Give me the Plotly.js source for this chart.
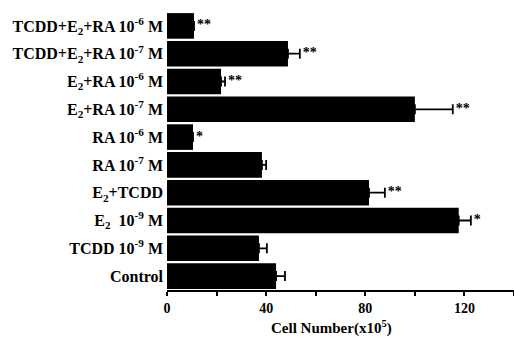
<!DOCTYPE html>
<html>
<head>
<meta charset="utf-8">
<script src="https://cdn.plot.ly/plotly-3.0.1.min.js"></script>
<style>html,body{margin:0;padding:0;background:#fff;}#chart{width:514px;height:338px;}</style>
</head>
<body>
<div id="chart"></div>
<script>
const categories = [
  "TCDD+E<sub>2</sub>+RA 10<sup>-6</sup> M",
  "TCDD+E<sub>2</sub>+RA 10<sup>-7</sup> M",
  "E<sub>2</sub>+RA 10<sup>-6</sup> M",
  "E<sub>2</sub>+RA 10<sup>-7</sup> M",
  "RA 10<sup>-6</sup> M",
  "RA 10<sup>-7</sup> M",
  "E<sub>2</sub>+TCDD",
  "E<sub>2</sub>  10<sup>-9</sup> M",
  "TCDD 10<sup>-9</sup> M",
  "Control"
];
const cellNumber = [10.9, 48.8, 21.8, 100, 10.5, 38.3, 81.5, 117.7, 37.1, 44];
const errorPlus  = [0, 4.8, 1.6, 15.3, 0, 1.7, 6.4, 4.9, 3.2, 3.6];
const significance = ["**", "**", "**", "**", "*", "", "**", "*", "", ""];
const xTickVals = [0, 20, 40, 60, 80, 100, 120, 140];
const xTickText = ["0", "", "40", "", "80", "", "120", ""];
const xTitle = "Cell Number(x10<sup>5</sup>)";

const serif = "Liberation Serif, Times New Roman, serif";

const bars = {
  type: "bar",
  orientation: "h",
  y: categories,
  x: cellNumber,
  marker: {color: "#000000", line: {width: 0}},
  error_x: {
    type: "data",
    symmetric: false,
    array: errorPlus,
    arrayminus: errorPlus.map(() => 0),
    color: "#000000",
    thickness: 1.8,
    width: 5
  },
  hoverinfo: "skip"
};

const stars = {
  type: "scatter",
  mode: "text",
  y: categories,
  x: cellNumber.map((v, i) => v + errorPlus[i] + 1.2),
  text: significance,
  textposition: "middle right",
  textfont: {family: serif, size: 14, color: "#000000", weight: "bold"},
  hoverinfo: "skip",
  cliponaxis: false
};

const layout = {
  width: 514,
  height: 338,
  margin: {l: 167, r: 0, t: 12, b: 48},
  paper_bgcolor: "#ffffff",
  plot_bgcolor: "#ffffff",
  showlegend: false,
  bargap: 0.08,
  font: {family: serif, color: "#000000"},
  xaxis: {
    range: [0, 140],
    tickvals: xTickVals,
    ticktext: xTickText,
    ticks: "outside",
    ticklen: 4,
    tickwidth: 2,
    tickcolor: "#000000",
    showline: true,
    linecolor: "#000000",
    linewidth: 2,
    showgrid: false,
    zeroline: false,
    tickfont: {family: serif, size: 14, color: "#000000", weight: "bold"}
  },
  yaxis: {
    autorange: "reversed",
    type: "category",
    showline: false,
    showgrid: false,
    zeroline: false,
    ticks: "",
    ticklabelstandoff: 3,
    tickfont: {family: serif, size: 16, color: "#000000", weight: "bold"}
  },
  annotations: [{
    text: xTitle,
    xref: "paper", yref: "paper",
    x: 0.475, y: 0, yshift: -37,
    xanchor: "center", yanchor: "middle",
    showarrow: false,
    font: {family: serif, size: 15, color: "#000000", weight: "bold"}
  }]
};

Plotly.newPlot("chart", [bars, stars], layout, {staticPlot: true, displayModeBar: false});
</script>
</body>
</html>
